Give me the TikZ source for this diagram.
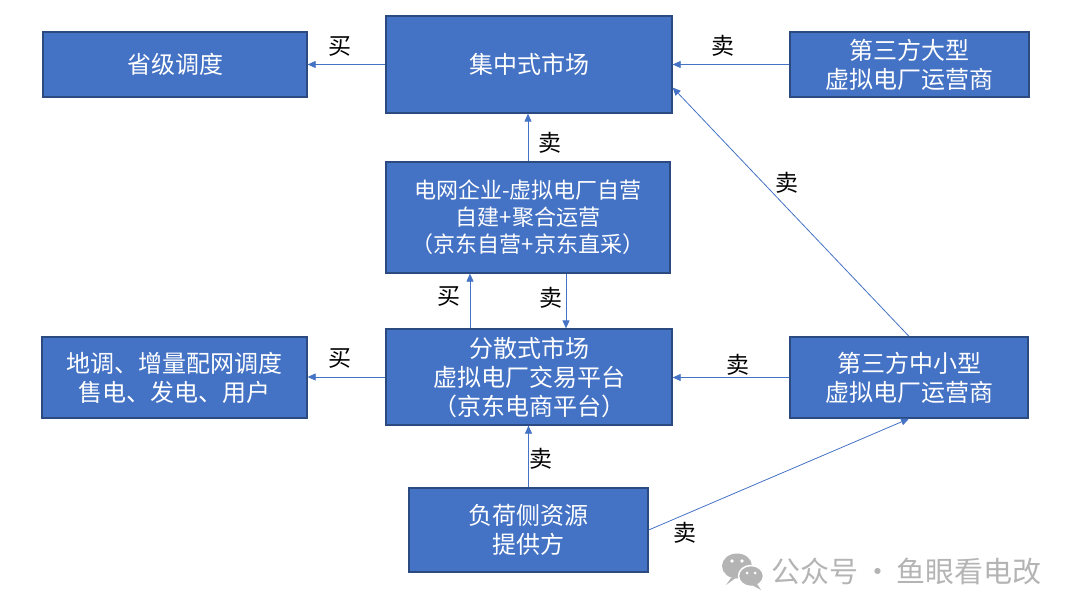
\documentclass[tikz,border=0pt]{standalone}
\usepackage{fontspec}
\newfontfamily\cjk{Noto Sans CJK SC}
\usetikzlibrary{arrows.meta}
\definecolor{boxfill}{HTML}{4472C4}
\definecolor{boxline}{HTML}{2B4A80}
\definecolor{arrline}{HTML}{4472C4}
\definecolor{wmgray}{HTML}{B4B4B4}
\begin{document}
\begin{tikzpicture}[x=1pt, y=-1pt]
\tikzstyle{box}=[draw=boxline, line width=1.3pt, fill=boxfill, text=white, align=center, inner sep=0pt, font=\cjk\fontsize{24}{29}\selectfont]
\tikzstyle{arr}=[draw=arrline, line width=0.8pt, -{Triangle[length=8pt,width=7pt]}]
\tikzstyle{lbl}=[font=\cjk\fontsize{23}{26}\selectfont, inner sep=0pt]
\useasboundingbox (0,0) rectangle (1080,615);
% boxes
\node[box, minimum width=264pt, minimum height=65pt] (sj) at (175,64.5) {省级调度};
\node[box, minimum width=286pt, minimum height=97pt] (jz) at (529,64.5) {集中式市场};
\node[box, minimum width=239pt, minimum height=65pt] (dx) at (909.5,64.5) {第三方大型\\虚拟电厂运营商};
\node[box, minimum width=284pt, minimum height=111pt, font=\cjk\fontsize{22}{27}\selectfont] (dw) at (528,217.5) {电网企业-虚拟电厂自营\\自建+聚合运营\\（京东自营+京东直采）};
\node[box, minimum width=286pt, minimum height=96pt] (fs) at (529,377) {分散式市场\\虚拟电厂交易平台\\（京东电商平台）};
\node[box, minimum width=265pt, minimum height=81pt] (dd) at (174.5,377.5) {地调、增量配网调度\\售电、发电、用户};
\node[box, minimum width=238pt, minimum height=81pt] (zx) at (909,377.5) {第三方中小型\\虚拟电厂运营商};
\node[box, minimum width=239pt, minimum height=84pt] (fh) at (528.5,530) {负荷侧资源\\提供方};
% connectors
\draw[arr] (jz.west) -- (sj.east);
\draw[arr] (dx.west) -- (dx.west -| jz.east);
\draw[arr] (dw.north) -- (dw.north |- jz.south);
\draw[arr] ([xshift=-59pt]fs.north) -- ([xshift=-59pt]fs.north |- dw.south);
\draw[arr] ([xshift=38pt]dw.south) -- ([xshift=38pt]dw.south |- fs.north);
\draw[arr] (fs.west) -- (fs.west -| dd.east);
\draw[arr] (zx.west) -- (zx.west -| fs.east);
\draw[arr] (zx.north) -- ([yshift=-23pt]jz.east);
\draw[arr] (fh.north) -- (fh.north |- fs.south);
\draw[arr] (fh.east) -- (zx.south);
% labels
\node[lbl] (l1) at (340,46) {买};
\node[lbl] (l2) at (723,46) {卖};
\node[lbl] (l3) at (550,143) {卖};
\node[lbl] (l4) at (449,296) {买};
\node[lbl] (l5) at (551,298) {卖};
\node[lbl] (l6) at (340,358) {买};
\node[lbl] (l7) at (738,365) {卖};
\node[lbl] (l8) at (787,183) {卖};
\node[lbl] (l9) at (541,459) {卖};
\node[lbl] (l10) at (685,533) {卖};
% watermark
\fill[wmgray] (737,566) ellipse (15 and 12.5);
\fill[wmgray] (731,578) -- (726,585) -- (737,577) -- cycle;
\filldraw[wmgray, draw=white, line width=1.5pt] (751,576) ellipse (12.5 and 10.5);
\fill[wmgray] (757,584) -- (761,590) -- (752,585) -- cycle;
\fill[white] (732,561) circle (1.8) (742,561) circle (1.8);
\fill[white] (747,573) circle (1.5) (755,573) circle (1.5);
\node[font=\cjk\fontsize{29}{32}\selectfont, text=wmgray, anchor=west, inner sep=0pt] (wm) at (771,571) {公众号\,·\,鱼眼看电改};
\end{tikzpicture}
\end{document}
